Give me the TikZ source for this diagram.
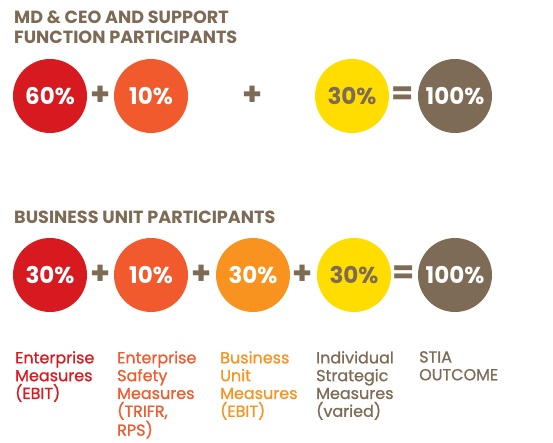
\documentclass[tikz,border=0pt]{standalone}
\usepackage{fontspec}
\setmainfont{Poppins}
\newfontfamily\measurefont[FakeBold=0.9]{Poppins}
\usetikzlibrary{positioning}

\definecolor{stiared}{HTML}{D71920}
\definecolor{stiaflame}{HTML}{F15A2C}
\definecolor{stiaorange}{HTML}{F7931E}
\definecolor{stiayellow}{HTML}{FFDD00}
\definecolor{stiabrown}{HTML}{7D6B55}

\begin{document}
\begin{tikzpicture}[
    x=1pt, y=-1pt,
    disc/.style={circle, minimum size=74pt, inner sep=0pt, text=white, font=\fontsize{23}{23}\selectfont\bfseries},
    op/.style={text=stiabrown, inner sep=0pt, font=\fontsize{32}{32}\selectfont\bfseries},
    head/.style={text=stiabrown, inner sep=0pt, anchor=north west, align=left, font=\fontsize{17.6}{20}\selectfont\bfseries},
    lbl/.style={inner sep=0pt, anchor=north west, align=left, font=\measurefont\fontsize{16}{17.8}\selectfont}
]
\useasboundingbox (0,0) rectangle (553,442);

% ---------- Headings ----------
\node[head] (headsupport) at (14,11) {MD \& CEO AND SUPPORT\\FUNCTION PARTICIPANTS};
\node[head] (headunit)    at (14,211) {BUSINESS UNIT PARTICIPANTS};

% ---------- Support function row ----------
\node[disc, fill=stiared]    (enterA)  at (50,96)  {60\%};
\node[disc, fill=stiaflame]  (safetyA) at (151,96) {10\%};
\node[disc, fill=stiayellow, text=stiabrown] (indivA) at (352,96) {30\%};
\node[disc, fill=stiabrown]  (totalA)  at (455,96) {100\%};

\node[op] (plusA1) at (101,96) {+};
\node[op] (plusA2) at (253,96) {+};
\node[op] (eqA)    at (403,96) {=};

% ---------- Business unit row ----------
\node[disc, fill=stiared]    (enterB)  at (50,275)  {30\%};
\node[disc, fill=stiaflame]  (safetyB) at (151,275) {10\%};
\node[disc, fill=stiaorange] (unitB)   at (253,275) {30\%};
\node[disc, fill=stiayellow, text=stiabrown] (indivB) at (354,275) {30\%};
\node[disc, fill=stiabrown]  (totalB)  at (455,275) {100\%};

\node[op] (plusB1) at (101,275) {+};
\node[op] (plusB2) at (202,275) {+};
\node[op] (plusB3) at (303,275) {+};
\node[op] (eqB)    at (404,275) {=};

% ---------- Measure labels ----------
\node[lbl, text=stiared]    (lblenter)  at (15,351)  {Enterprise\\Measures\\(EBIT)};
\node[lbl, text=stiaflame]  (lblsafety) at (117,351) {Enterprise\\Safety\\Measures\\(TRIFR,\\RPS)};
\node[lbl, text=stiaorange] (lblunit)   at (220,351) {Business\\Unit\\Measures\\(EBIT)};
\node[lbl, text=stiabrown]  (lblindiv)  at (316,351) {Individual\\Strategic\\Measures\\(varied)};
\node[lbl, text=stiabrown]  (lbltotal)  at (419,351) {STIA\\OUTCOME};

\end{tikzpicture}
\end{document}
